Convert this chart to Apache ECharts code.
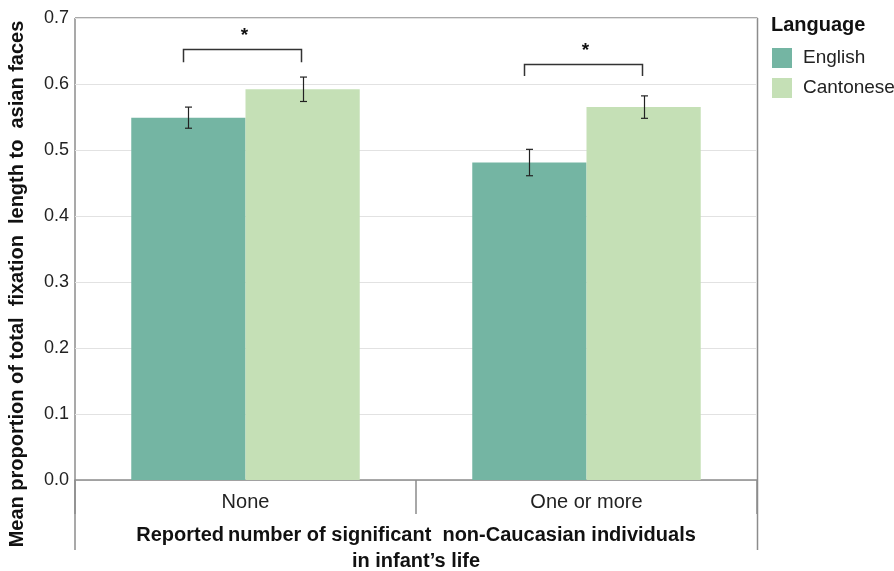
<!DOCTYPE html>
<html>
<head>
<meta charset="utf-8">
<script src="https://cdn.jsdelivr.net/npm/echarts@6/dist/echarts.min.js"></script>
<style>
  html, body { margin: 0; padding: 0; background: #fff; }
  #chart { width: 894px; height: 571px; }
</style>
</head>
<body>
<div id="chart"></div>
<script>
// Mean proportion of fixation to asian faces, by exposure group and language
const categories = ['None', 'One or more'];
const seriesNames = ['English', 'Cantonese'];
const englishMeans = [0.549, 0.481];
const cantoneseMeans = [0.592, 0.565];
const englishErr = [0.016, 0.020];
const cantoneseErr = [0.0185, 0.017];
// significance brackets: [category index, bracket top, leg bottom, label]
const sigBrackets = [
  [0, 0.653, 0.633, '*'],
  [1, 0.631, 0.612, '*']
];
const yTicks = [0, 0.1, 0.2, 0.3, 0.4, 0.5, 0.6, 0.7];
const yTitle = 'Mean proportion of total  fixation  length to  asian faces';
const xTitle = 'Reported\u2009number of significant  non-Caucasian individuals\nin infant\u2019s life';
const legendTitle = 'Language';

const colors = ['#74b5a3', '#c5e0b6'];
const frameColor = '#8c8c8c';
const FONT = 'Liberation Sans, Arial, sans-serif';
const GAP = 0.33;

const chart = echarts.init(document.getElementById('chart'), null, { renderer: 'canvas' });

function barOffset(api, seriesIdx) {
  const band = api.size([1, 0])[0];
  const barW = band * (1 - GAP) / 2;
  return { barW, off: (seriesIdx === 0 ? -barW / 2 : barW / 2) };
}

function errorSeries(means, errs, seriesIdx) {
  return {
    type: 'custom',
    name: seriesNames[seriesIdx] + ' error',
    z: 5,
    silent: true,
    data: means.map((m, i) => [i, m - errs[i], m + errs[i]]),
    renderItem: function (params, api) {
      const lo = api.coord([api.value(0), api.value(1)]);
      const hi = api.coord([api.value(0), api.value(2)]);
      const { off } = barOffset(api, seriesIdx);
      const x = Math.round(lo[0] + off) + 0.5;
      const cap = 3.5;
      const style = { stroke: '#222', lineWidth: 1.2 };
      return {
        type: 'group',
        children: [
          { type: 'line', shape: { x1: x, y1: lo[1], x2: x, y2: hi[1] }, style },
          { type: 'line', shape: { x1: x - cap, y1: lo[1], x2: x + cap, y2: lo[1] }, style },
          { type: 'line', shape: { x1: x - cap, y1: hi[1], x2: x + cap, y2: hi[1] }, style }
        ]
      };
    }
  };
}

const option = {
  animation: false,
  textStyle: { fontFamily: FONT },
  grid: { left: 75, right: 137, top: 18, bottom: 91, containLabel: false, outerBoundsMode: 'none' },
  legend: {
    show: true,
    orient: 'vertical',
    left: 772,
    top: 48,
    padding: 0,
    itemWidth: 20,
    itemHeight: 20,
    itemGap: 10,
    icon: 'rect',
    data: seriesNames,
    textStyle: { fontSize: 19, color: '#222', fontFamily: FONT, padding: [0, 0, 0, 6] }
  },
  xAxis: {
    type: 'category',
    data: categories,
    boundaryGap: true,
    axisLine: { show: true, lineStyle: { color: frameColor, width: 1.5 } },
    axisTick: { show: true, length: 34, lineStyle: { color: frameColor, width: 1.5 } },
    axisLabel: { fontSize: 20, color: '#222', margin: 12, fontFamily: FONT },
    name: xTitle,
    nameLocation: 'middle',
    nameGap: 42,
    nameTextStyle: { fontSize: 20, fontWeight: 'bold', color: '#111', lineHeight: 26, fontFamily: FONT }
  },
  yAxis: {
    type: 'value',
    min: 0,
    max: 0.7,
    interval: 0.1,
    axisLine: { show: false },
    axisTick: { show: false },
    splitLine: { show: true, lineStyle: { color: '#e2e2e2', width: 1 } },
    axisLabel: {
      fontSize: 18,
      color: '#222',
      margin: 6,
      fontFamily: FONT,
      formatter: v => {
        const t = yTicks.find(k => Math.abs(k - v) < 1e-9);
        return (t !== undefined ? t : v).toFixed(1);
      }
    }
  },
  series: [
    {
      name: seriesNames[0],
      type: 'bar',
      data: englishMeans,
      barGap: '0%',
      barCategoryGap: (GAP * 100) + '%',
      itemStyle: { color: colors[0] }
    },
    {
      name: seriesNames[1],
      type: 'bar',
      data: cantoneseMeans,
      barGap: '0%',
      barCategoryGap: (GAP * 100) + '%',
      itemStyle: { color: colors[1] }
    },
    errorSeries(englishMeans, englishErr, 0),
    errorSeries(cantoneseMeans, cantoneseErr, 1),
    {
      type: 'custom',
      name: 'significance',
      z: 6,
      silent: true,
      data: sigBrackets.map(b => [b[0], b[1], b[2]]),
      renderItem: function (params, api) {
        const ci = api.value(0);
        const top = api.coord([ci, api.value(1)]);
        const leg = api.coord([ci, api.value(2)]);
        const { barW } = barOffset(api, 0);
        const x1 = Math.round(top[0] - barW / 2 - 5) + 0.5;
        const x2 = Math.round(top[0] + barW / 2 - 2) + 0.5;
        const y = Math.round(top[1]) + 0.5;
        const style = { stroke: '#333', lineWidth: 1.5, fill: null };
        return {
          type: 'group',
          children: [
            { type: 'polyline', shape: { points: [[x1, leg[1]], [x1, y], [x2, y], [x2, leg[1]]] }, style },
            {
              type: 'text',
              style: {
                text: sigBrackets[params.dataIndex][3],
                x: (x1 + x2) / 2 + 2,
                y: y - 4,
                align: 'center',
                verticalAlign: 'bottom',
                font: 'bold 19px ' + FONT,
                fill: '#111'
              }
            }
          ]
        };
      }
    }
  ],
  graphic: [
    // frame: top border and side rules running down past the axis labels
    { type: 'line', shape: { x1: 75, y1: 18, x2: 757.5, y2: 18 }, style: { stroke: frameColor, lineWidth: 1.5 } },
    { type: 'line', shape: { x1: 75, y1: 18, x2: 75, y2: 550 }, style: { stroke: frameColor, lineWidth: 1.5 } },
    { type: 'line', shape: { x1: 757.5, y1: 18, x2: 757.5, y2: 550 }, style: { stroke: frameColor, lineWidth: 1.5 } },
    {
      type: 'text',
      left: 771,
      top: 15,
      style: { text: legendTitle, font: 'bold 20px ' + FONT, fill: '#111' }
    },
    {
      // y-axis title, centred on the full frame height rather than the plot
      type: 'text',
      x: 17,
      y: 284,
      rotation: Math.PI / 2,
      style: {
        text: yTitle,
        font: 'bold 20px ' + FONT,
        fill: '#111',
        align: 'center',
        verticalAlign: 'middle'
      }
    }
  ]
};

chart.setOption(option);
</script>
</body>
</html>
